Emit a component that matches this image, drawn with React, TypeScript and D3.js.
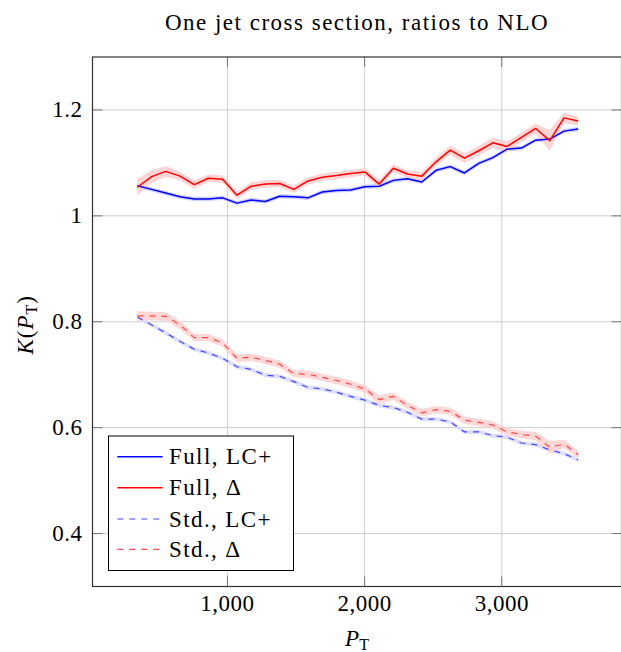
import React from "react";
import * as d3 from "d3";

const pt = [343, 447, 550, 654, 758, 861, 965, 1069, 1173, 1276, 1380, 1484, 1587, 1691, 1795, 1898, 2002, 2106, 2210, 2313, 2417, 2521, 2624, 2728, 2832, 2935, 3039, 3143, 3247, 3350, 3454, 3557];

const fullLC = [1.057, 1.050, 1.043, 1.036, 1.032, 1.032, 1.034, 1.024, 1.030, 1.027, 1.037, 1.036, 1.034, 1.045, 1.048, 1.049, 1.055, 1.056, 1.067, 1.070, 1.064, 1.086, 1.093, 1.081, 1.099, 1.110, 1.126, 1.128, 1.143, 1.145, 1.160, 1.164];
const fullLCErr = [0.005, 0.004, 0.004, 0.004, 0.004, 0.004, 0.004, 0.004, 0.004, 0.004, 0.004, 0.004, 0.004, 0.004, 0.004, 0.004, 0.004, 0.004, 0.004, 0.004, 0.004, 0.004, 0.004, 0.004, 0.004, 0.004, 0.004, 0.004, 0.004, 0.004, 0.004, 0.004];

const fullDelta = [1.054, 1.074, 1.084, 1.075, 1.059, 1.071, 1.069, 1.039, 1.056, 1.060, 1.061, 1.050, 1.066, 1.073, 1.076, 1.080, 1.083, 1.060, 1.090, 1.079, 1.075, 1.102, 1.124, 1.109, 1.123, 1.138, 1.131, 1.148, 1.165, 1.142, 1.185, 1.179];
const fullDeltaErr = [0.016, 0.012, 0.010, 0.008, 0.008, 0.007, 0.007, 0.007, 0.007, 0.007, 0.007, 0.007, 0.007, 0.007, 0.007, 0.007, 0.007, 0.008, 0.007, 0.007, 0.007, 0.008, 0.009, 0.009, 0.009, 0.010, 0.010, 0.009, 0.009, 0.020, 0.010, 0.008];

const stdLC = [0.809, 0.794, 0.779, 0.763, 0.748, 0.741, 0.731, 0.715, 0.710, 0.699, 0.697, 0.687, 0.676, 0.673, 0.667, 0.659, 0.652, 0.642, 0.638, 0.629, 0.616, 0.616, 0.611, 0.592, 0.592, 0.585, 0.582, 0.571, 0.568, 0.558, 0.551, 0.539];
const stdLCErr = [0.004, 0.004, 0.004, 0.004, 0.004, 0.004, 0.004, 0.004, 0.004, 0.004, 0.004, 0.004, 0.004, 0.004, 0.004, 0.004, 0.004, 0.004, 0.004, 0.004, 0.004, 0.004, 0.004, 0.004, 0.004, 0.004, 0.004, 0.004, 0.004, 0.004, 0.004, 0.004];

const stdDelta = [0.811, 0.811, 0.810, 0.794, 0.770, 0.770, 0.760, 0.731, 0.733, 0.727, 0.720, 0.702, 0.701, 0.695, 0.689, 0.682, 0.673, 0.653, 0.659, 0.642, 0.628, 0.634, 0.631, 0.614, 0.610, 0.605, 0.592, 0.587, 0.584, 0.563, 0.569, 0.549];
const stdDeltaErr = [0.009, 0.008, 0.008, 0.008, 0.007, 0.007, 0.007, 0.007, 0.007, 0.007, 0.007, 0.007, 0.007, 0.007, 0.007, 0.007, 0.007, 0.008, 0.007, 0.007, 0.007, 0.007, 0.007, 0.007, 0.007, 0.007, 0.007, 0.007, 0.008, 0.012, 0.008, 0.007];

const xTicks = [1000, 2000, 3000];
const xTickLabels = ["1,000", "2,000", "3,000"];
const yTicks = [0.4, 0.6, 0.8, 1.0, 1.2];
const yTickLabels = ["0.4", "0.6", "0.8", "1", "1.2"];

const seriesNames = ["Full, LC+", "Full, \u0394", "Std., LC+", "Std., \u0394"];

const W = 621, H = 652;
const L = 92.5, R = 621.5, T = 57, B = 586.5;
const FONT = "'Liberation Serif', 'Times New Roman', serif";
const FS = 23;

export default function App() {
  const x = d3.scaleLinear().domain([16, 3873]).range([L, R]);
  const y = d3.scaleLinear().domain([0.3, 1.3]).range([B, T]);

  const series = [
    { vals: fullLC, err: fullLCErr, stroke: "#0000ff", band: "#c8c8ff", dash: null as string | null, width: 1.5 },
    { vals: fullDelta, err: fullDeltaErr, stroke: "#ff0000", band: "#ffcccc", dash: null, width: 1.5 },
    { vals: stdLC, err: stdLCErr, stroke: "#4545ff", band: "#d8d8ff", dash: "6,6", width: 1.2 },
    { vals: stdDelta, err: stdDeltaErr, stroke: "#ff4545", band: "#ffd0d0", dash: "6,6", width: 1.2 },
  ];

  const line = (vals: number[]) =>
    d3.line<number>().x((_, i) => x(pt[i])).y((v) => y(v))(vals) || "";
  const area = (vals: number[], err: number[]) =>
    d3
      .area<number>()
      .x((_, i) => x(pt[i]))
      .y0((v, i) => y(v - err[i]))
      .y1((v, i) => y(v + err[i]))(vals) || "";

  const legX = 108.5, legY = 436, legW = 185, legH = 134.5;
  const rowY = [456.7, 487.7, 519, 549.3];

  return (
    <svg width={W} height={H} style={{ position: "absolute", left: 0, top: 0 }} fontFamily={FONT}>
      <rect x={0} y={0} width={W} height={H} fill="#fff" />
      <text x={357} y={30} textAnchor="middle" fontSize={FS} letterSpacing={1.5}>
        One jet cross section, ratios to NLO
      </text>
      <defs>
        <clipPath id="plotclip">
          <rect x={L} y={T} width={R - L} height={B - T} />
        </clipPath>
      </defs>
      {/* grid */}
      {xTicks.map((t) => (
        <line key={"gx" + t} x1={x(t)} x2={x(t)} y1={T} y2={B} stroke="#cfcfcf" strokeWidth={1} />
      ))}
      {yTicks.map((t) => (
        <line key={"gy" + t} x1={L} x2={R} y1={y(t)} y2={y(t)} stroke="#cfcfcf" strokeWidth={1} />
      ))}
      {/* ticks */}
      {xTicks.map((t) => (
        <g key={"tx" + t} stroke="#777" strokeWidth={1}>
          <line x1={x(t)} x2={x(t)} y1={B} y2={B - 10} />
          <line x1={x(t)} x2={x(t)} y1={T} y2={T + 10} />
        </g>
      ))}
      {yTicks.map((t) => (
        <g key={"ty" + t} stroke="#777" strokeWidth={1}>
          <line x1={L} x2={L + 10} y1={y(t)} y2={y(t)} />
          <line x1={R} x2={R - 10} y1={y(t)} y2={y(t)} />
        </g>
      ))}
      <g clipPath="url(#plotclip)">
        {series.map((s, k) => (
          <path key={"b" + k} d={area(s.vals, s.err)} fill={s.band} stroke="none" opacity={0.85} />
        ))}
        {series.map((s, k) => (
          <path
            key={"l" + k}
            d={line(s.vals)}
            fill="none"
            stroke={s.stroke}
            strokeWidth={s.width}
            strokeDasharray={s.dash || undefined}
            strokeLinejoin="round"
          />
        ))}
      </g>
      {/* frame */}
      <rect x={L} y={T} width={R - L} height={B - T} fill="none" stroke="#333" strokeWidth={1.2} />
      {/* tick labels */}
      {xTicks.map((t, i) => (
        <text key={"lx" + t} x={x(t)} y={611} textAnchor="middle" fontSize={FS} letterSpacing={0.5}>
          {xTickLabels[i]}
        </text>
      ))}
      {yTicks.map((t, i) => (
        <text key={"ly" + t} x={82.5} y={y(t) + 7.5} textAnchor="end" fontSize={FS} letterSpacing={0.5}>
          {yTickLabels[i]}
        </text>
      ))}
      {/* axis labels */}
      <text x={357} y={646} textAnchor="middle" fontSize={FS}>
        <tspan fontStyle="italic">P</tspan>
        <tspan fontSize={16} dy={4}>T</tspan>
      </text>
      <text transform={`translate(33, ${(T + B) / 2 + 3}) rotate(-90)`} textAnchor="middle" fontSize={FS} letterSpacing={1}>
        <tspan fontStyle="italic">K</tspan>
        <tspan>(</tspan>
        <tspan fontStyle="italic">P</tspan>
        <tspan fontSize={16} dy={4}>T</tspan>
        <tspan dy={-4}>)</tspan>
      </text>
      {/* legend */}
      <rect x={legX} y={legY} width={legW} height={legH} fill="#fff" stroke="#000" strokeWidth={1} />
      {series.map((s, k) => (
        <g key={"leg" + k}>
          <line
            x1={117.3}
            x2={162.7}
            y1={rowY[k]}
            y2={rowY[k]}
            stroke={s.stroke}
            strokeWidth={s.width}
            strokeDasharray={s.dash || undefined}
          />
          <text x={169} y={rowY[k] + 7.5} fontSize={FS} letterSpacing={1.4}>
            {seriesNames[k]}
          </text>
        </g>
      ))}
    </svg>
  );
}
